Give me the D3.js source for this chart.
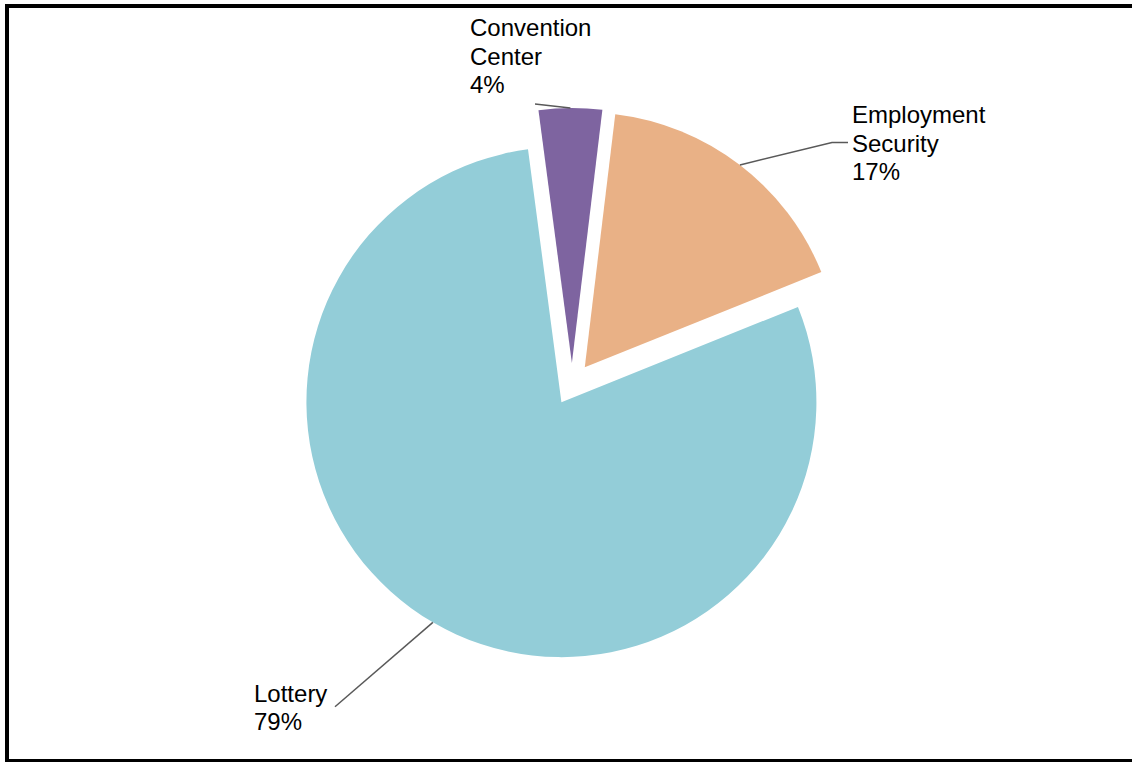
<!DOCTYPE html>
<html>
<head>
<meta charset="utf-8">
<script src="https://cdn.jsdelivr.net/npm/d3@7/dist/d3.min.js"></script>
<style>
  html, body { margin: 0; padding: 0; background: #fff; }
  svg { display: block; }
  text { font-family: "Liberation Sans", Arial, sans-serif; font-size: 24px; fill: #000; }
</style>
</head>
<body>
<svg id="chart" width="1132" height="762"></svg>
<script>
// Share of funds by source (percent)
const categories = ["Convention Center", "Employment Security", "Lottery"];
const labelLines = [["Convention", "Center"], ["Employment", "Security"], ["Lottery"]];
const shares = [4, 17, 79];
const colors = ["#7E64A0", "#E9B186", "#93CDD8"];

// Layout
const W = 1132, H = 762;
const cx = 572, cy = 384, radius = 255, explode = 21;
const startAngle = -7.53 * Math.PI / 180;
const lineHeight = 28.7;
// Label anchors (left x, first baseline) and leader-line elbows
const labelPos = [
  { x: 470, y: 36, leader: [[535, 104]] },
  { x: 852, y: 123, leader: [[832, 142.5], [848, 142.5]] },
  { x: 254, y: 701.5, leader: [[335, 706.7]] }
];

const svg = d3.select("#chart");

const data = categories.map((c, i) => ({ name: c, value: shares[i], i }));

const pie = d3.pie()
  .value(d => d.value)
  .sort(null)
  .startAngle(startAngle)
  .endAngle(startAngle + 2 * Math.PI);

const arcs = pie(data);
const arc = d3.arc().innerRadius(0).outerRadius(radius);
const rim = d3.arc().innerRadius(radius).outerRadius(radius);

// Offset each slice outward along its mid-angle
function offset(a) {
  const m = (a.startAngle + a.endAngle) / 2;
  return [Math.sin(m) * explode, -Math.cos(m) * explode];
}

const g = svg.append("g").attr("transform", `translate(${cx},${cy})`);

g.selectAll("path.slice")
  .data(arcs)
  .join("path")
  .attr("class", "slice")
  .attr("d", arc)
  .attr("fill", d => colors[d.data.i])
  .attr("transform", d => `translate(${offset(d)})`);

// Leader lines from the outer rim at each slice's mid-angle to its label
const line = d3.line();
arcs.forEach(a => {
  const [ox, oy] = offset(a);
  const [rx, ry] = rim.centroid(a);
  const start = [cx + ox + rx, cy + oy + ry];
  const pts = [start].concat(labelPos[a.data.i].leader);
  svg.append("path")
    .attr("d", line(pts))
    .attr("fill", "none")
    .attr("stroke", "#595959")
    .attr("stroke-width", 1.5);
});

// Labels: category name lines followed by the percentage
arcs.forEach(a => {
  const p = labelPos[a.data.i];
  const lines = labelLines[a.data.i].concat([d3.format(".0f")(a.data.value) + "%"]);
  const t = svg.append("text").attr("x", p.x).attr("y", p.y);
  lines.forEach((s, k) => {
    t.append("tspan")
      .attr("x", p.x)
      .attr("y", p.y + k * lineHeight)
      .text(s);
  });
});

// Chart frame
svg.append("rect")
  .attr("x", 7)
  .attr("y", 6)
  .attr("width", 1131)
  .attr("height", 755)
  .attr("fill", "none")
  .attr("stroke", "#000")
  .attr("stroke-width", 4);
</script>
</body>
</html>
